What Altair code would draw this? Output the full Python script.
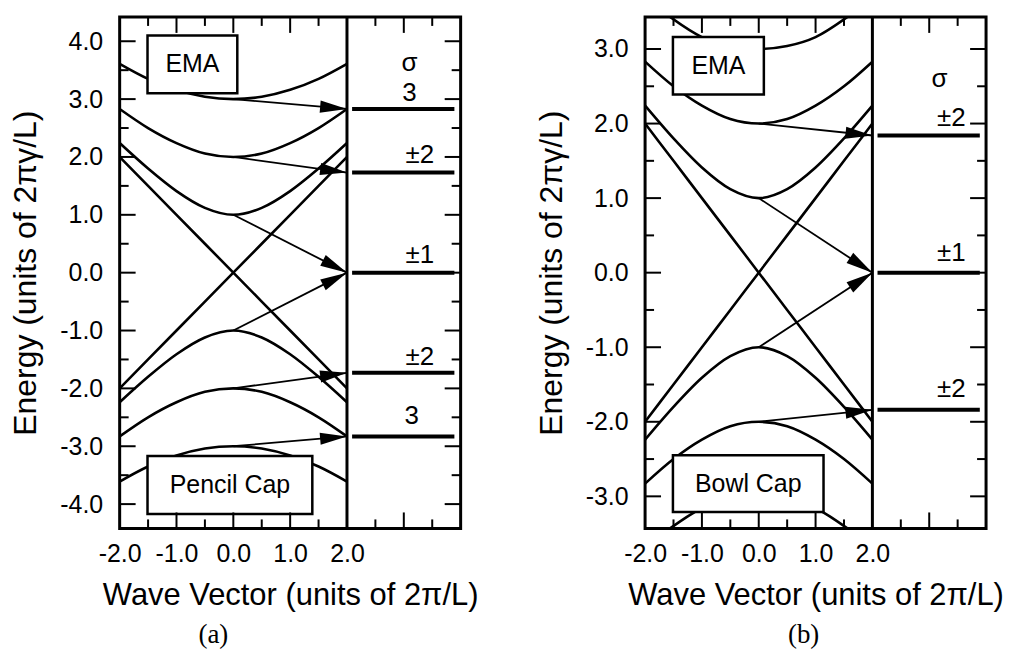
import math
import altair as alt
import pandas as pd

# ---------------- data ----------------
k_pts = [-2.0, -1.5, -1.0, -0.5, 0.0, 0.5, 1.0, 1.5, 2.0]
band_p3 = [3.61, 3.35, 3.16, 3.04, 3.00, 3.04, 3.16, 3.35, 3.61]
band_p2 = [2.83, 2.50, 2.24, 2.06, 2.00, 2.06, 2.24, 2.50, 2.83]
band_p1 = [2.24, 1.80, 1.41, 1.12, 1.00, 1.12, 1.41, 1.80, 2.24]
line_down = [2.00, 1.50, 1.00, 0.50, 0.00, -0.50, -1.00, -1.50, -2.00]
line_up = [-2.00, -1.50, -1.00, -0.50, 0.00, 0.50, 1.00, 1.50, 2.00]
band_m1 = [-2.24, -1.80, -1.41, -1.12, -1.00, -1.12, -1.41, -1.80, -2.24]
band_m2 = [-2.83, -2.50, -2.24, -2.06, -2.00, -2.06, -2.24, -2.50, -2.83]
band_m3 = [-3.61, -3.35, -3.16, -3.04, -3.00, -3.04, -3.16, -3.35, -3.61]

# in panel (b) the outermost bands leave the frame at k = +-1.56
k_pts_b_outer = [-1.56, -1.0, -0.5, 0.0, 0.5, 1.0, 1.56]
band_b_p3 = [3.43, 3.16, 3.04, 3.00, 3.04, 3.16, 3.43]
band_b_m3 = [-3.43, -3.16, -3.04, -3.00, -3.04, -3.16, -3.43]

# panel (a): pencil cap
arrow_a_from = [3.00, 2.00, 1.00, -1.00, -2.00, -3.00]
arrow_a_to = [2.83, 1.73, 0.00, 0.00, -1.73, -2.83]
level_a = [2.83, 1.73, 0.00, -1.73, -2.83]
label_a_text = ["σ", "3", "±2", "±1", "±2", "3"]
label_a_k = [3.10, 3.10, 3.28, 3.28, 3.28, 3.14]
label_a_E = [3.62, 3.10, 2.03, 0.31, -1.45, -2.48]
box_a_text = ["EMA", "Pencil Cap"]
box_a_k0 = [-1.51, -1.51]
box_a_k1 = [0.07, 1.39]
box_a_E0 = [3.10, -4.17]
box_a_E1 = [4.10, -3.17]

# panel (b): bowl cap
arrow_b_from = [2.00, 1.00, -1.00, -2.00]
arrow_b_to = [1.84, 0.00, 0.00, -1.84]
level_b = [1.84, 0.00, -1.84]
label_b_text = ["σ", "±2", "±1", "±2"]
label_b_k = [3.18, 3.39, 3.39, 3.39]
label_b_E = [2.60, 2.08, 0.27, -1.56]
box_b_text = ["EMA", "Bowl Cap"]
box_b_k0 = [-1.51, -1.51]
box_b_k1 = [0.09, 1.14]
box_b_E0 = [2.39, -3.21]
box_b_E1 = [3.16, -2.45]

arrow_k_from = 0.0
arrow_k_to = 2.0
divider_k = [2.0]

x_tick_labels = [-2.0, -1.0, 0.0, 1.0, 2.0]
x_major_ticks = [-1.0, 0.0, 1.0, 3.0]
x_minor_ticks = [-1.5, -0.5, 0.5, 1.5, 2.5, 3.5]
y_major_a = [-4.0, -3.0, -2.0, -1.0, 0.0, 1.0, 2.0, 3.0, 4.0]
y_minor_a = [-3.5, -2.5, -1.5, -0.5, 0.5, 1.5, 2.5, 3.5]
y_major_b = [-3.0, -2.0, -1.0, 0.0, 1.0, 2.0, 3.0]
y_minor_b = [-2.5, -1.5, -0.5, 0.5, 1.5, 2.5]

# ---------------- layout / style ----------------
W, H = 342, 513
K_DOMAIN = [-2.0, 4.0]
FONT = "Liberation Sans"
ARROW = "M0,0L-2,-0.45L-2,0.45Z"
MAJ, MIN = 16, 9
LEVEL_K0, LEVEL_K1 = 2.09, 3.89
HYPHEN = "(datum.value < 0 ? '-' : '') + format(abs(datum.value), '.1f')"


def curve_table(sets):
    return pd.DataFrame(
        [{"k": k, "E": e, "band": name} for name, ks, vals in sets for k, e in zip(ks, vals)]
    )


curves_a = curve_table([
    ("p3", k_pts, band_p3), ("p2", k_pts, band_p2), ("p1", k_pts, band_p1),
    ("down", k_pts, line_down), ("up", k_pts, line_up),
    ("m1", k_pts, band_m1), ("m2", k_pts, band_m2), ("m3", k_pts, band_m3),
])
curves_b = curve_table([
    ("p3", k_pts_b_outer, band_b_p3), ("p2", k_pts, band_p2), ("p1", k_pts, band_p1),
    ("down", k_pts, line_down), ("up", k_pts, line_up),
    ("m1", k_pts, band_m1), ("m2", k_pts, band_m2), ("m3", k_pts_b_outer, band_b_m3),
])


def panel(curves_df, ydom, y_major, y_minor, a_from, a_to, levels, lab_t, lab_k, lab_E,
          bx_t, bx_k0, bx_k1, bx_E0, bx_E1, letter, letter_dx):
    xs = alt.Scale(domain=K_DOMAIN, nice=False, zero=False)
    ys = alt.Scale(domain=ydom, nice=False, zero=False)
    px_k = W / (K_DOMAIN[1] - K_DOMAIN[0])
    px_E = H / (ydom[1] - ydom[0])

    common = dict(ticks=False, domain=False, grid=False, labelOverlap=False,
                  labelFlush=False, labelBound=False,
                  labelFont=FONT, labelFontSize=25, labelColor="black",
                  titleFont=FONT, titleFontWeight="normal",
                  titleColor="black", labelExpr=HYPHEN)
    xaxis = alt.Axis(values=x_tick_labels, labelPadding=13, titlePadding=14,
                     titleFontSize=31, title="Wave Vector (units of 2π/L)", **common)
    yaxis = alt.Axis(values=y_major, labelPadding=17, titlePadding=17,
                     titleFontSize=32, title="Energy (units of 2πγ/L)", **common)

    def X(f):
        return alt.X(f, type="quantitative", scale=xs, axis=xaxis)

    def Y(f):
        return alt.Y(f, type="quantitative", scale=ys, axis=yaxis)

    curves = alt.Chart(curves_df).mark_line(
        color="black", strokeWidth=2.6, interpolate="monotone", clip=True
    ).encode(x=X("k"), y=Y("E"), detail="band:N")

    divider = alt.Chart(pd.DataFrame({"k": divider_k})).mark_rule(
        color="black", strokeWidth=3
    ).encode(x=X("k"), y=alt.value(0), y2=alt.value(H))

    lev_df = pd.DataFrame({"E": levels, "k0": LEVEL_K0, "k1": LEVEL_K1})
    lev = alt.Chart(lev_df).mark_rule(color="black", strokeWidth=4).encode(
        x=X("k0"), x2="k1:Q", y=Y("E"),
    )

    arr_df = pd.DataFrame({"E0": a_from, "E1": a_to})
    arr_df["k0"] = arrow_k_from
    arr_df["k1"] = arrow_k_to
    arr_df["ang"] = [
        math.degrees(math.atan2((e0 - e1) * px_E, (arrow_k_to - arrow_k_from) * px_k)) % 360
        for e0, e1 in zip(a_from, a_to)
    ]
    shafts = alt.Chart(arr_df).mark_rule(color="black", strokeWidth=1.8).encode(
        x=X("k0"), x2="k1:Q", y=Y("E0"), y2="E1:Q",
    )
    heads = alt.Chart(arr_df).mark_point(
        shape=ARROW, filled=True, size=729, color="black", opacity=1, strokeWidth=0
    ).encode(
        x=X("k1"), y=Y("E1"), angle=alt.Angle("ang:Q", scale=None),
    )

    box_df = pd.DataFrame({"t": bx_t, "k0": bx_k0, "k1": bx_k1, "E0": bx_E0, "E1": bx_E1})
    box_df["kc"] = (box_df["k0"] + box_df["k1"]) / 2
    box_df["Ec"] = (box_df["E0"] + box_df["E1"]) / 2
    boxes = alt.Chart(box_df).mark_rect(fill="white", stroke="black", strokeWidth=2.5).encode(
        x=X("k0"), x2="k1:Q", y=Y("E0"), y2="E1:Q",
    )
    box_txt = alt.Chart(box_df).mark_text(font=FONT, fontSize=25, color="black").encode(
        x=X("kc"), y=Y("Ec"), text="t:N",
    )

    lab_df = pd.DataFrame({"t": lab_t, "k": lab_k, "E": lab_E})
    labels = alt.Chart(lab_df).mark_text(font=FONT, fontSize=26, color="black").encode(
        x=X("k"), y=Y("E"), text="t:N",
    )

    def yticks(vals, length):
        d = pd.DataFrame({"E": vals})
        left = alt.Chart(d).mark_rule(color="black", strokeWidth=2).encode(
            y=Y("E"), x=alt.value(0), x2=alt.value(length))
        right = alt.Chart(d).mark_rule(color="black", strokeWidth=2).encode(
            y=Y("E"), x=alt.value(W - length), x2=alt.value(W))
        return [left, right]

    def xticks(vals, length):
        d = pd.DataFrame({"k": vals})
        top = alt.Chart(d).mark_rule(color="black", strokeWidth=2).encode(
            x=X("k"), y=alt.value(0), y2=alt.value(length))
        bottom = alt.Chart(d).mark_rule(color="black", strokeWidth=2).encode(
            x=X("k"), y=alt.value(H - length), y2=alt.value(H))
        return [top, bottom]

    ticks = (yticks(y_major, MAJ) + yticks(y_minor, MIN)
             + xticks(x_major_ticks, MAJ) + xticks(x_minor_ticks, MIN))

    return alt.layer(
        curves, divider, lev, shafts, heads, boxes, box_txt, labels, *ticks
    ).properties(
        width=W, height=H,
        title=alt.TitleParams(letter, orient="bottom", font="Liberation Serif",
                              fontSize=27, fontWeight="normal", color="black",
                              dx=letter_dx, offset=12),
    )


pa = panel(curves_a, [-4.42, 4.42], y_major_a, y_minor_a, arrow_a_from, arrow_a_to, level_a,
           label_a_text, label_a_k, label_a_E,
           box_a_text, box_a_k0, box_a_k1, box_a_E0, box_a_E1, "(a)", -77)
pb = panel(curves_b, [-3.43, 3.43], y_major_b, y_minor_b, arrow_b_from, arrow_b_to, level_b,
           label_b_text, label_b_k, label_b_E,
           box_b_text, box_b_k0, box_b_k1, box_b_E0, box_b_E1, "(b)", -12)

chart = alt.hconcat(pa, pb, spacing=54).properties(
    padding={"left": 0, "top": 5, "right": 0, "bottom": 0},
    background="white",
).configure_view(
    stroke="black", strokeWidth=3
)

chart.save("out.html", embed_options={"renderer": "svg", "actions": False})
